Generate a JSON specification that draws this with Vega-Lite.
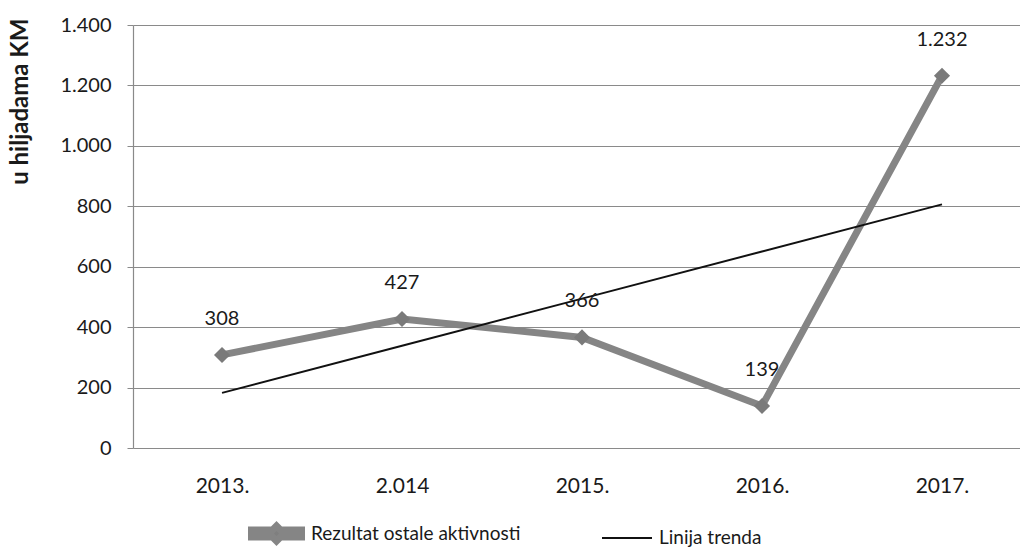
{
  "$schema": "https://vega.github.io/schema/vega-lite/v6.json",
  "width": 887,
  "height": 423,
  "autosize": "none",
  "padding": {"left": 133, "top": 25, "right": 0, "bottom": 103},
  "background": "white",
  "config": {
    "font": "Lato",
    "view": {"stroke": null},
    "locale": {"number": {"decimal": ",", "thousands": ".", "grouping": [3], "currency": ["", " KM"]}}
  },
  "data": {
    "values": [
      {"godina": "2013.", "serija": "Rezultat ostale aktivnosti", "vrijednost": 308},
      {"godina": "2.014", "serija": "Rezultat ostale aktivnosti", "vrijednost": 427},
      {"godina": "2015.", "serija": "Rezultat ostale aktivnosti", "vrijednost": 366},
      {"godina": "2016.", "serija": "Rezultat ostale aktivnosti", "vrijednost": 139},
      {"godina": "2017.", "serija": "Rezultat ostale aktivnosti", "vrijednost": 1232},
      {"godina": "2013.", "serija": "Linija trenda", "vrijednost": 182.4},
      {"godina": "2.014", "serija": "Linija trenda", "vrijednost": 338.4},
      {"godina": "2015.", "serija": "Linija trenda", "vrijednost": 494.4},
      {"godina": "2016.", "serija": "Linija trenda", "vrijednost": 650.4},
      {"godina": "2017.", "serija": "Linija trenda", "vrijednost": 806.4}
    ]
  },
  "encoding": {
    "x": {
      "field": "godina", "type": "ordinal", "sort": null,
      "scale": {"type": "point", "padding": 0.464, "align": 0.533},
      "axis": {"title": null, "grid": false, "ticks": false, "domain": false, "labelAngle": 0, "labelFontSize": 21, "labelColor": "#1a1a1a", "labelPadding": 27}
    },
    "y": {
      "field": "vrijednost", "type": "quantitative",
      "scale": {"domain": [0, 1400], "nice": false},
      "axis": {
        "title": "u hiljadama KM", "titleFontSize": 24, "titleFontWeight": "bold", "titleColor": "#1a1a1a", "titlePadding": 27,
        "titleAnchor": "end", "titleY": -7,
        "values": [0, 200, 400, 600, 800, 1000, 1200, 1400], "format": ",d",
        "labelFontSize": 20, "labelColor": "#1a1a1a", "labelPadding": 16,
        "grid": true, "gridColor": "#8a8a8a", "gridWidth": 1.2,
        "domain": true, "domainColor": "#8a8a8a", "domainWidth": 1.2,
        "ticks": true, "tickSize": 6, "tickColor": "#8a8a8a"
      }
    }
  },
  "layer": [
    {
      "mark": {"type": "line"},
      "encoding": {
        "color": {
          "field": "serija", "type": "nominal",
          "scale": {"domain": ["Rezultat ostale aktivnosti", "Linija trenda"], "range": ["#858585", "#111111"]},
          "legend": {
            "title": null, "orient": "none", "legendX": 115, "legendY": 480, "direction": "horizontal",
            "symbolType": "stroke", "symbolSize": 2500, "labelFontSize": 19, "labelColor": "#1a1a1a", "labelOffset": 6, "labelLimit": 400, "columnPadding": 77,
            "encode": {
              "symbols": {
                "update": {
                  "shape": {"signal": "datum.value === 'Linija trenda' ? 'stroke' : 'M-1,-0.14L-0.16,-0.14L0,-0.3L0.16,-0.14L1,-0.14L1,0.14L0.16,0.14L0,0.3L-0.16,0.14L-1,0.14Z'"},
                  "fill": {"signal": "datum.value === 'Linija trenda' ? 'transparent' : '#7f7f7f'"},
                  "strokeWidth": {"signal": "datum.value === 'Linija trenda' ? 2 : 0"},
                  "stroke": {"signal": "datum.value === 'Linija trenda' ? '#111111' : '#7f7f7f'"}
                }
              }
            }
          }
        },
        "strokeWidth": {
          "field": "serija", "type": "nominal",
          "scale": {"domain": ["Rezultat ostale aktivnosti", "Linija trenda"], "range": [7, 2]},
          "legend": null
        }
      }
    },
    {
      "transform": [{"filter": "datum.serija === 'Rezultat ostale aktivnosti'"}],
      "mark": {"type": "point", "shape": "diamond", "filled": true, "size": 260, "color": "#7a7a7a", "opacity": 1}
    },
    {
      "transform": [{"filter": "datum.serija === 'Rezultat ostale aktivnosti'"}],
      "mark": {"type": "text", "dy": -36, "fontSize": 20, "color": "#1a1a1a"},
      "encoding": {"text": {"field": "vrijednost", "type": "quantitative", "format": ",d"}}
    }
  ]
}
